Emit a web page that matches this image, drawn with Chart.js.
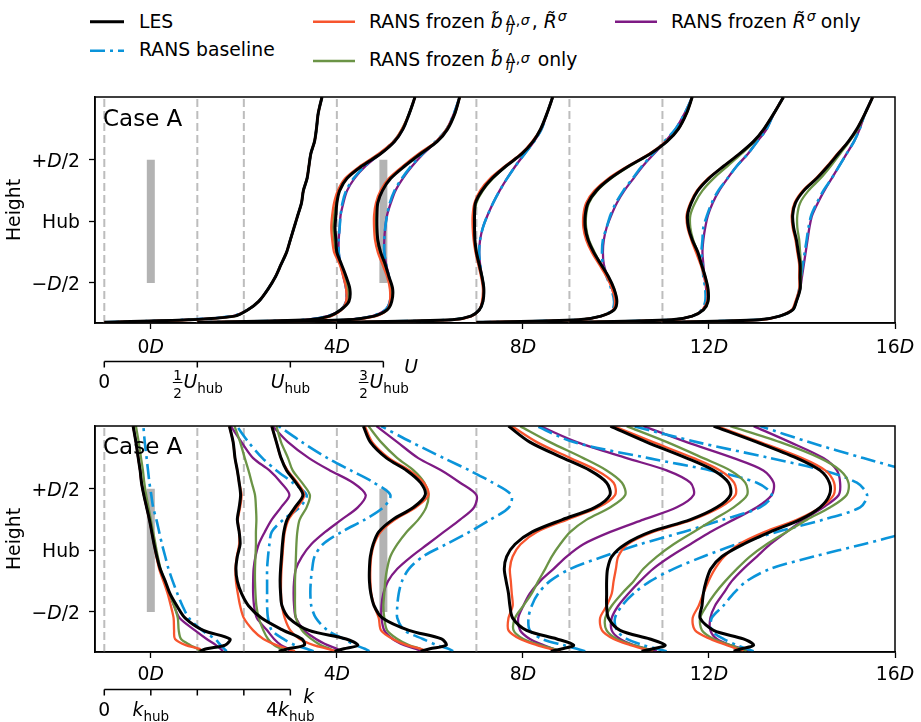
<!DOCTYPE html>
<html>
<head>
<meta charset="utf-8">
<script src="https://cdn.jsdelivr.net/npm/chart.js@4.4.1/dist/chart.umd.min.js"></script>
<style>
  body { margin: 0; background: #fff; width: 921px; height: 722px; position: relative; overflow: hidden;
         font-family: "DejaVu Sans", sans-serif; color: #000; }
  canvas { position: absolute; left: 0; }
  #cU { top: 0; }
  #cK { top: 400px; }
  #legendLines { position: absolute; left: 0; top: 0; }
  .lt { position: absolute; font-size: 18.8px; line-height: 18px; white-space: nowrap; }
  .ss { display: inline-block; position: relative; width: 26px; height: 1px; margin-left: 3px; }
  .ss > span { position: absolute; left: 0; font-size: 14px; line-height: 14px; letter-spacing: 0.5px; }
  .sp1 { display: inline-block; position: relative; width: 9px; height: 1px; }
  .sp1 > span { position: absolute; left: 1px; top: -18px; font-size: 14px; line-height: 14px; }
</style>
</head>
<body>
<svg id="legendLines" width="921" height="80">
  <line x1="90" y1="21.7" x2="124" y2="21.7" stroke="#000000" stroke-width="3"/>
  <line x1="90" y1="50.7" x2="124" y2="50.7" stroke="#0a94da" stroke-width="2.6" stroke-dasharray="15 5 3 5"/>
  <line x1="313" y1="21.7" x2="355" y2="21.7" stroke="#f7552e" stroke-width="2.6"/>
  <line x1="313" y1="61" x2="355" y2="61" stroke="#6b9446" stroke-width="2.6"/>
  <line x1="615" y1="21.7" x2="657" y2="21.7" stroke="#7e1a84" stroke-width="2.6"/>
</svg>
<div class="lt" style="left:139px;top:12.8px">LES</div>
<div class="lt" style="left:139px;top:41.2px">RANS baseline</div>
<div class="lt" style="left:369px;top:12.8px">RANS frozen <i>b&#771;</i><span class="ss"><span style="top:-14px">Δ,<i>σ</i></span><span style="top:-7px"><i>ij</i></span></span>, <i>R&#771;</i><span class="sp1"><span><i>σ</i></span></span></div>
<div class="lt" style="left:369px;top:51.2px">RANS frozen <i>b&#771;</i><span class="ss"><span style="top:-14px">Δ,<i>σ</i></span><span style="top:-7px"><i>ij</i></span></span> only</div>
<div class="lt" style="left:671px;top:12.8px">RANS frozen <i>R&#771;</i><span class="sp1"><span><i>σ</i></span></span> only</div>

<canvas id="cU" width="921" height="400"></canvas>
<canvas id="cK" width="921" height="322"></canvas>

<script>
// heights above/below hub in rotor diameters, shared by every profile (ground first)
const heights = [-0.82, -0.80, -0.77, -0.72, -0.65, -0.55, -0.45, -0.35, -0.25, -0.15, -0.05,
                 0.05, 0.15, 0.25, 0.35, 0.45, 0.55, 0.65, 0.75, 0.88, 1.01];
const stations = [-1, 1, 2, 4, 7, 9, 11];   // x/D of each profile
const turbines = [0, 5];                    // x/D of the rotors
const rotorSpan = [-0.5, 0.5];
const xTicks = [0, 4, 8, 12, 16];
const yTicks = [-0.5, 0, 0.5];
const uTicks = [0, 0.5, 1, 1.5];            // U / U_hub
const kTicks = [0, 1, 2, 3, 4];             // k / k_hub
const uScale = 4;                           // D per U_hub
const kScale = 1;                           // D per k_hub

// U / U_hub, one row per station
const uLES = [
  [0, 0.45, 0.70, 0.77, 0.83, 0.88, 0.92, 0.95, 0.98, 1.00, 1.02, 1.04, 1.06, 1.07, 1.09, 1.10, 1.11, 1.13, 1.14, 1.15, 1.17],
  [0, 0.60, 0.71, 0.77, 0.815, 0.82, 0.80, 0.775, 0.75, 0.745, 0.74, 0.745, 0.75, 0.765, 0.805, 0.885, 0.985, 1.06, 1.105, 1.14, 1.17],
  [0, 0.55, 0.70, 0.77, 0.795, 0.80, 0.78, 0.76, 0.735, 0.72, 0.716, 0.716, 0.72, 0.745, 0.79, 0.865, 0.95, 1.04, 1.095, 1.135, 1.16],
  [0, 0.62, 0.72, 0.765, 0.785, 0.79, 0.78, 0.765, 0.75, 0.742, 0.74, 0.74, 0.745, 0.78, 0.835, 0.91, 0.995, 1.055, 1.095, 1.13, 1.16],
  [0, 0.55, 0.67, 0.74, 0.755, 0.74, 0.71, 0.67, 0.63, 0.60, 0.585, 0.585, 0.60, 0.645, 0.72, 0.82, 0.935, 1.025, 1.085, 1.13, 1.16],
  [0, 0.55, 0.66, 0.72, 0.745, 0.745, 0.73, 0.71, 0.69, 0.66, 0.64, 0.635, 0.655, 0.69, 0.75, 0.83, 0.915, 0.99, 1.045, 1.10, 1.15],
  [0, 0.52, 0.63, 0.70, 0.72, 0.74, 0.74, 0.74, 0.73, 0.72, 0.705, 0.70, 0.715, 0.76, 0.83, 0.89, 0.945, 1.00, 1.045, 1.09, 1.13]
];
const uFrozenBR = [
  [0, 0.47, 0.70, 0.77, 0.83, 0.88, 0.92, 0.95, 0.98, 1.00, 1.02, 1.04, 1.06, 1.07, 1.09, 1.10, 1.11, 1.13, 1.14, 1.15, 1.17],
  [0, 0.62, 0.72, 0.775, 0.80, 0.80, 0.785, 0.765, 0.735, 0.725, 0.72, 0.725, 0.735, 0.755, 0.795, 0.875, 0.975, 1.055, 1.10, 1.14, 1.17],
  [0, 0.57, 0.71, 0.77, 0.785, 0.785, 0.77, 0.745, 0.72, 0.705, 0.70, 0.70, 0.71, 0.735, 0.78, 0.855, 0.94, 1.035, 1.09, 1.135, 1.16],
  [0, 0.63, 0.725, 0.765, 0.78, 0.785, 0.775, 0.76, 0.745, 0.735, 0.73, 0.73, 0.74, 0.77, 0.825, 0.905, 0.99, 1.05, 1.095, 1.13, 1.16],
  [0, 0.56, 0.67, 0.735, 0.745, 0.73, 0.70, 0.66, 0.62, 0.59, 0.575, 0.575, 0.59, 0.635, 0.71, 0.815, 0.93, 1.02, 1.085, 1.13, 1.16],
  [0, 0.56, 0.66, 0.715, 0.74, 0.74, 0.725, 0.705, 0.68, 0.655, 0.635, 0.63, 0.65, 0.685, 0.745, 0.83, 0.915, 0.99, 1.045, 1.10, 1.15],
  [0, 0.53, 0.63, 0.695, 0.715, 0.735, 0.735, 0.735, 0.725, 0.715, 0.70, 0.695, 0.71, 0.755, 0.825, 0.885, 0.94, 1.00, 1.045, 1.09, 1.13]
];
const uFrozenB = [
  [0, 0.45, 0.70, 0.77, 0.83, 0.88, 0.92, 0.95, 0.98, 1.00, 1.02, 1.04, 1.06, 1.07, 1.09, 1.10, 1.11, 1.13, 1.14, 1.15, 1.17],
  [0, 0.61, 0.715, 0.77, 0.81, 0.81, 0.79, 0.77, 0.745, 0.735, 0.73, 0.735, 0.745, 0.76, 0.80, 0.88, 0.98, 1.058, 1.10, 1.14, 1.17],
  [0, 0.56, 0.70, 0.77, 0.79, 0.79, 0.775, 0.755, 0.73, 0.715, 0.71, 0.71, 0.715, 0.74, 0.785, 0.86, 0.945, 1.038, 1.093, 1.135, 1.16],
  [0, 0.62, 0.72, 0.765, 0.785, 0.79, 0.78, 0.765, 0.75, 0.74, 0.74, 0.74, 0.75, 0.785, 0.84, 0.91, 0.995, 1.055, 1.095, 1.13, 1.16],
  [0, 0.55, 0.67, 0.74, 0.755, 0.74, 0.71, 0.67, 0.635, 0.605, 0.59, 0.59, 0.605, 0.65, 0.725, 0.825, 0.935, 1.025, 1.085, 1.13, 1.16],
  [0, 0.55, 0.66, 0.72, 0.745, 0.745, 0.73, 0.71, 0.69, 0.665, 0.65, 0.65, 0.675, 0.715, 0.775, 0.85, 0.925, 0.995, 1.045, 1.10, 1.15],
  [0, 0.52, 0.63, 0.70, 0.72, 0.74, 0.745, 0.745, 0.74, 0.735, 0.725, 0.725, 0.74, 0.785, 0.85, 0.905, 0.955, 1.005, 1.05, 1.09, 1.13]
];
const uFrozenR = [
  [0, 0.43, 0.69, 0.77, 0.83, 0.88, 0.92, 0.95, 0.98, 1.00, 1.02, 1.04, 1.06, 1.07, 1.09, 1.10, 1.11, 1.13, 1.14, 1.15, 1.17],
  [0, 0.58, 0.70, 0.77, 0.80, 0.80, 0.785, 0.77, 0.76, 0.76, 0.765, 0.77, 0.785, 0.805, 0.845, 0.905, 0.985, 1.06, 1.105, 1.14, 1.17],
  [0, 0.55, 0.69, 0.76, 0.785, 0.79, 0.78, 0.765, 0.755, 0.755, 0.76, 0.77, 0.79, 0.815, 0.855, 0.905, 0.965, 1.035, 1.09, 1.13, 1.16],
  [0, 0.62, 0.72, 0.765, 0.785, 0.79, 0.78, 0.77, 0.765, 0.77, 0.785, 0.81, 0.84, 0.875, 0.915, 0.96, 1.01, 1.06, 1.10, 1.13, 1.16],
  [0, 0.55, 0.67, 0.735, 0.745, 0.73, 0.705, 0.685, 0.68, 0.685, 0.70, 0.725, 0.755, 0.795, 0.845, 0.895, 0.955, 1.015, 1.07, 1.12, 1.16],
  [0, 0.55, 0.66, 0.715, 0.735, 0.735, 0.725, 0.72, 0.715, 0.72, 0.73, 0.745, 0.77, 0.805, 0.85, 0.90, 0.96, 1.01, 1.06, 1.10, 1.15],
  [0, 0.52, 0.63, 0.70, 0.72, 0.74, 0.75, 0.76, 0.77, 0.78, 0.79, 0.805, 0.835, 0.87, 0.91, 0.95, 0.99, 1.03, 1.06, 1.09, 1.13]
];
const uBaseline = [
  [0, 0.43, 0.69, 0.77, 0.83, 0.88, 0.92, 0.95, 0.98, 1.00, 1.02, 1.04, 1.06, 1.07, 1.09, 1.10, 1.11, 1.13, 1.14, 1.15, 1.17],
  [0, 0.58, 0.70, 0.77, 0.80, 0.80, 0.79, 0.77, 0.76, 0.76, 0.765, 0.77, 0.78, 0.80, 0.84, 0.90, 0.98, 1.055, 1.105, 1.14, 1.17],
  [0, 0.55, 0.69, 0.76, 0.785, 0.79, 0.78, 0.765, 0.755, 0.755, 0.76, 0.77, 0.785, 0.81, 0.85, 0.90, 0.96, 1.03, 1.09, 1.13, 1.16],
  [0, 0.62, 0.72, 0.765, 0.785, 0.79, 0.78, 0.77, 0.765, 0.77, 0.785, 0.81, 0.84, 0.875, 0.915, 0.96, 1.01, 1.06, 1.10, 1.13, 1.16],
  [0, 0.55, 0.67, 0.73, 0.74, 0.725, 0.70, 0.68, 0.675, 0.68, 0.70, 0.72, 0.75, 0.79, 0.84, 0.89, 0.95, 1.01, 1.07, 1.12, 1.16],
  [0, 0.55, 0.66, 0.71, 0.73, 0.73, 0.72, 0.715, 0.71, 0.715, 0.72, 0.74, 0.765, 0.80, 0.85, 0.90, 0.96, 1.01, 1.06, 1.10, 1.15],
  [0, 0.52, 0.63, 0.70, 0.72, 0.735, 0.745, 0.755, 0.765, 0.775, 0.785, 0.80, 0.83, 0.865, 0.91, 0.95, 0.99, 1.03, 1.06, 1.09, 1.13]
];

// k / k_hub, one row per station
const kLES = [
  [2.05, 2.2, 2.6, 2.7, 2.13, 1.74, 1.56, 1.41, 1.31, 1.20, 1.13, 1.07, 1.02, 0.97, 0.91, 0.85, 0.80, 0.77, 0.73, 0.68, 0.62],
  [1.75, 1.95, 2.3, 2.25, 1.85, 1.38, 1.10, 0.95, 0.86, 0.83, 0.86, 0.92, 0.90, 0.86, 0.90, 0.93, 0.90, 0.86, 0.81, 0.77, 0.69],
  [1.95, 2.15, 2.45, 2.2, 1.4, 0.97, 0.82, 0.79, 0.78, 0.79, 0.81, 0.83, 0.86, 0.93, 1.1, 1.27, 1.12, 0.92, 0.8, 0.7, 0.6],
  [1.8, 2.0, 2.35, 2.25, 1.55, 0.98, 0.8, 0.73, 0.7, 0.7, 0.72, 0.78, 0.9, 1.2, 1.65, 1.9, 1.8, 1.5, 1.07, 0.72, 0.57],
  [1.6, 1.85, 2.09, 1.73, 1.08, 0.78, 0.72, 0.69, 0.64, 0.6, 0.65, 0.83, 1.2, 1.85, 2.55, 2.87, 2.8, 2.44, 1.87, 1.15, 0.69],
  [1.55, 1.8, 2.06, 1.73, 1.09, 0.84, 0.8, 0.8, 0.8, 0.82, 0.91, 1.2, 1.74, 2.6, 3.17, 3.46, 3.42, 3.1, 2.52, 1.66, 0.88],
  [1.53, 1.7, 1.96, 1.74, 1.1, 0.81, 0.85, 0.88, 0.94, 1.04, 1.28, 1.74, 2.32, 2.96, 3.39, 3.59, 3.59, 3.39, 2.89, 2.03, 1.1]
];
const kFrozenBR = [
  [2.1, 2.05, 1.75, 1.52, 1.5, 1.49, 1.43, 1.36, 1.27, 1.18, 1.12, 1.07, 1.02, 0.97, 0.91, 0.85, 0.8, 0.77, 0.73, 0.68, 0.62],
  [2.1, 1.95, 1.7, 1.42, 1.2, 1.0, 0.92, 0.87, 0.83, 0.82, 0.85, 0.9, 0.9, 0.87, 0.92, 0.95, 0.9, 0.86, 0.81, 0.77, 0.69],
  [2.0, 1.8, 1.5, 1.2, 1.0, 0.88, 0.82, 0.8, 0.8, 0.81, 0.83, 0.85, 0.88, 0.96, 1.15, 1.3, 1.15, 0.94, 0.8, 0.7, 0.6],
  [1.95, 1.8, 1.5, 1.2, 0.95, 0.9, 0.8, 0.74, 0.72, 0.72, 0.74, 0.8, 0.94, 1.25, 1.7, 1.97, 1.87, 1.56, 1.12, 0.76, 0.6],
  [1.8, 1.58, 1.3, 0.94, 0.69, 0.69, 0.78, 0.76, 0.74, 0.72, 0.78, 0.95, 1.3, 1.95, 2.62, 2.98, 2.95, 2.59, 2.02, 1.3, 0.76],
  [1.8, 1.59, 1.31, 0.95, 0.7, 0.66, 0.8, 0.91, 0.95, 1.0, 1.05, 1.25, 1.8, 2.65, 3.24, 3.57, 3.54, 3.24, 2.67, 1.8, 0.95],
  [1.74, 1.6, 1.38, 1.03, 0.7, 0.65, 0.78, 0.88, 0.99, 1.13, 1.33, 1.65, 2.2, 2.9, 3.4, 3.68, 3.69, 3.5, 3.0, 2.1, 1.17]
];
const kFrozenB = [
  [2.06, 2.0, 1.85, 1.65, 1.6, 1.58, 1.5, 1.4, 1.3, 1.21, 1.15, 1.1, 1.05, 1.0, 0.95, 0.9, 0.86, 0.83, 0.79, 0.74, 0.68],
  [1.9, 1.8, 1.65, 1.52, 1.42, 1.32, 1.27, 1.25, 1.24, 1.24, 1.25, 1.26, 1.26, 1.27, 1.26, 1.24, 1.17, 1.1, 1.02, 0.92, 0.8],
  [1.95, 1.85, 1.65, 1.45, 1.25, 1.12, 1.1, 1.1, 1.1, 1.11, 1.12, 1.13, 1.15, 1.2, 1.35, 1.42, 1.25, 1.05, 0.95, 0.8, 0.7],
  [1.9, 1.8, 1.55, 1.3, 1.08, 1.02, 1.0, 1.02, 1.04, 1.08, 1.15, 1.3, 1.5, 1.75, 1.92, 1.97, 1.88, 1.65, 1.3, 0.95, 0.68],
  [1.8, 1.66, 1.37, 1.01, 0.8, 0.83, 1.01, 1.19, 1.33, 1.48, 1.62, 1.8, 2.02, 2.37, 2.88, 3.2, 3.13, 2.8, 2.3, 1.58, 0.94],
  [1.8, 1.66, 1.38, 1.02, 0.8, 0.77, 0.91, 1.13, 1.38, 1.59, 1.88, 2.24, 2.67, 3.1, 3.53, 3.82, 3.78, 3.46, 2.88, 2.1, 1.23],
  [1.81, 1.67, 1.46, 1.1, 0.85, 0.81, 0.95, 1.13, 1.35, 1.6, 1.88, 2.24, 2.67, 3.11, 3.61, 3.96, 4.0, 3.82, 3.39, 2.53, 1.46]
];
const kFrozenR = [
  [2.55, 2.5, 2.4, 2.2, 1.95, 1.62, 1.5, 1.4, 1.3, 1.2, 1.13, 1.07, 1.02, 0.97, 0.91, 0.85, 0.8, 0.77, 0.73, 0.68, 0.62],
  [2.0, 1.95, 1.8, 1.65, 1.5, 1.28, 1.22, 1.2, 1.2, 1.21, 1.25, 1.32, 1.45, 1.6, 1.8, 1.98, 1.8, 1.55, 1.2, 0.95, 0.72],
  [2.1, 2.0, 1.8, 1.55, 1.3, 1.12, 1.08, 1.07, 1.08, 1.12, 1.25, 1.45, 1.75, 2.1, 2.45, 2.62, 2.35, 1.85, 1.4, 0.95, 0.62],
  [1.85, 1.7, 1.45, 1.2, 1.02, 0.96, 0.96, 1.0, 1.1, 1.3, 1.6, 1.95, 2.3, 2.65, 2.95, 3.0, 2.65, 2.25, 1.75, 1.3, 0.85],
  [1.8, 1.66, 1.44, 1.15, 0.94, 0.9, 1.01, 1.15, 1.37, 1.66, 1.94, 2.3, 2.88, 3.59, 4.31, 4.67, 4.6, 4.09, 3.23, 2.16, 1.37],
  [1.88, 1.66, 1.38, 1.09, 0.91, 0.91, 1.05, 1.27, 1.52, 1.8, 2.17, 2.6, 3.03, 3.53, 4.03, 4.35, 4.39, 4.17, 3.53, 2.52, 1.59],
  [1.88, 1.74, 1.46, 1.17, 1.03, 1.03, 1.13, 1.31, 1.49, 1.74, 2.03, 2.32, 2.67, 3.03, 3.46, 3.79, 3.82, 3.75, 3.46, 2.74, 1.96]
];
const kBaseline = [
  [2.63, 2.58, 2.5, 2.38, 2.1, 1.82, 1.68, 1.57, 1.47, 1.38, 1.31, 1.24, 1.18, 1.12, 1.05, 1.01, 0.97, 0.94, 0.91, 0.87, 0.84],
  [2.5, 2.35, 2.1, 1.85, 1.6, 1.52, 1.5, 1.5, 1.5, 1.5, 1.52, 1.55, 1.6, 1.85, 2.2, 2.35, 2.05, 1.7, 1.4, 1.1, 0.85],
  [2.7, 2.6, 2.4, 2.15, 1.8, 1.55, 1.45, 1.43, 1.44, 1.47, 1.52, 1.7, 2.1, 2.6, 3.0, 3.15, 2.8, 2.3, 1.8, 1.25, 0.75],
  [2.5, 2.4, 2.15, 1.85, 1.45, 1.3, 1.3, 1.33, 1.4, 1.55, 1.85, 2.35, 2.85, 3.3, 3.7, 3.75, 3.35, 2.85, 2.3, 1.6, 0.95],
  [2.34, 2.16, 1.87, 1.41, 1.15, 1.12, 1.19, 1.33, 1.58, 2.02, 2.73, 3.52, 4.45, 5.3, 6.1, 6.35, 6.03, 5.03, 3.7, 2.09, 1.3],
  [2.09, 1.88, 1.59, 1.23, 1.02, 0.98, 1.13, 1.38, 1.74, 2.24, 2.88, 3.6, 4.46, 5.46, 6.25, 6.4, 6.18, 5.46, 4.32, 2.74, 1.38],
  [1.96, 1.81, 1.6, 1.31, 1.06, 1.06, 1.31, 1.53, 1.81, 2.32, 3.25, 4.32, 5.3, 6.0, 6.4, 6.5, 6.0, 5.25, 4.32, 3.15, 2.1]
];

const X_MIN = -1.2, X_MAX = 16, Y_MIN = -0.826, Y_MAX = 1.011;
const FONT = '"DejaVu Sans", sans-serif';
const FS = 18.8;

const styles = {
  les:  { color: '#000000', width: 3,   dash: [],            order: 1 },
  br:   { color: '#f7552e', width: 2.3, dash: [],            order: 2 },
  b:    { color: '#6b9446', width: 2.3, dash: [],            order: 3 },
  base: { color: '#0a94da', width: 2.6, dash: [15, 5, 3, 5], order: 4 },
  r:    { color: '#7e1a84', width: 2.3, dash: [],            order: 5 }
};

function profileSets(series, scale) {
  const out = [];
  series.forEach(([vals, st]) => {
    vals.forEach((row, j) => {
      out.push({
        data: heights.map((z, i) => ({ x: stations[j] + scale * row[i], y: z })),
        borderColor: st.color, borderWidth: st.width, borderDash: st.dash,
        order: st.order, showLine: true, tension: 0.3, pointRadius: 0, clip: 0
      });
    });
  });
  // station guides and rotors
  stations.forEach(s => out.push({
    data: [{ x: s, y: Y_MIN }, { x: s, y: Y_MAX }], borderColor: '#bdbdbd', borderWidth: 2,
    borderDash: [8, 4], order: 20, showLine: true, pointRadius: 0, clip: 0
  }));
  turbines.forEach(t => out.push({
    data: [{ x: t, y: rotorSpan[0] }, { x: t, y: rotorSpan[1] }], borderColor: '#b3b3b3', borderWidth: 8,
    borderCapStyle: 'butt', order: 19, showLine: true, pointRadius: 0, clip: 0
  }));
  return out;
}

function drawRich(ctx, parts, x, y, align, size) {
  size = size || FS;
  const small = 13.5;
  const fontOf = p => (p.it ? 'italic ' : '') + (p.sub || p.frac ? small : size) + 'px ' + FONT;
  const widthOf = p => {
    ctx.font = fontOf(p);
    if (p.frac) return Math.max(ctx.measureText(p.frac[0]).width, ctx.measureText(p.frac[1]).width) + 3;
    return ctx.measureText(p.t).width;
  };
  const total = parts.reduce((s, p) => s + widthOf(p), 0);
  let cx = align === 'center' ? x - total / 2 : align === 'right' ? x - total : x;
  ctx.textBaseline = 'alphabetic';
  parts.forEach(p => {
    const w = widthOf(p);
    ctx.font = fontOf(p);
    if (p.frac) {
      ctx.textAlign = 'center';
      ctx.fillText(p.frac[0], cx + w / 2, y - 8);
      ctx.fillText(p.frac[1], cx + w / 2, y + 10);
      ctx.fillRect(cx + 1, y - 6, w - 2, 1);
    } else {
      ctx.textAlign = 'left';
      ctx.fillText(p.t, cx, y + (p.sub ? 5 : 0));
    }
    cx += w;
  });
}

const yTickParts = [
  [{ t: '\u2212' }, { t: 'D', it: true }, { t: '/2' }],
  [{ t: 'Hub' }],
  [{ t: '+' }, { t: 'D', it: true }, { t: '/2' }]
];
const uTickParts = [
  [{ t: '0' }],
  [{ frac: ['1', '2'] }, { t: 'U', it: true }, { t: 'hub', sub: true }],
  [{ t: 'U', it: true }, { t: 'hub', sub: true }],
  [{ frac: ['3', '2'] }, { t: 'U', it: true }, { t: 'hub', sub: true }]
];
const kTickParts = [
  [{ t: '0' }],
  [{ t: 'k', it: true }, { t: 'hub', sub: true }],
  [], [],
  [{ t: '4' }, { t: 'k', it: true }, { t: 'hub', sub: true }]
];

function makeDecor(o) {
  return {
    id: 'decor',
    afterDraw(chart) {
      const { ctx, chartArea: a } = chart;
      const x = chart.scales.x, y = chart.scales.y;
      ctx.save();
      ctx.strokeStyle = '#000';
      ctx.lineWidth = 1.5;
      ctx.strokeRect(a.left, a.top, a.right - a.left, a.bottom - a.top);
      ctx.fillStyle = '#000';
      xTicks.forEach(v => drawRich(ctx, [{ t: String(v) }, { t: 'D', it: true }], x.getPixelForValue(v), a.bottom + o.xLabelGap, 'center'));
      yTicks.forEach((v, i) => drawRich(ctx, yTickParts[i], a.left - 15, y.getPixelForValue(v) + 6.8, 'right'));

      ctx.save();
      ctx.translate(15, (a.top + a.bottom) / 2);
      ctx.rotate(-Math.PI / 2);
      ctx.font = FS + 'px ' + FONT;
      ctx.textAlign = 'center';
      ctx.textBaseline = 'middle';
      ctx.fillText('Height', 0, 0);
      ctx.restore();

      ctx.font = '23px ' + FONT;
      ctx.textAlign = 'left';
      ctx.textBaseline = 'alphabetic';
      ctx.fillText('Case A', a.left + 8, a.top + o.caseGap);

      // secondary scale: profile value axis anchored at the first station
      const ay = a.bottom + o.axisGap;
      const px = v => x.getPixelForValue(stations[0] + o.scale * v);
      const ticks = o.ticks;
      ctx.lineWidth = 1.5;
      ctx.beginPath();
      ctx.moveTo(px(ticks[0]), ay);
      ctx.lineTo(px(ticks[ticks.length - 1]), ay);
      ticks.forEach(v => { ctx.moveTo(px(v), ay); ctx.lineTo(px(v), ay + 6); });
      ctx.stroke();
      ticks.forEach((v, i) => { if (o.parts[i].length) drawRich(ctx, o.parts[i], px(v), ay + o.labelGap, 'center'); });
      drawRich(ctx, [{ t: o.symbol, it: true }], px(ticks[ticks.length - 1]) + o.symbolDx, ay + o.symbolDy, 'left');
      ctx.restore();
    }
  };
}

function makeChart(id, series, scale, pad, deco) {
  return new Chart(document.getElementById(id), {
    type: 'scatter',
    data: { datasets: profileSets(series, scale) },
    options: {
      responsive: false, animation: false, events: [],
      layout: { padding: pad },
      plugins: { legend: { display: false }, tooltip: { enabled: false } },
      scales: {
        x: {
          type: 'linear', min: X_MIN, max: X_MAX,
          afterBuildTicks: s => { s.ticks = xTicks.map(v => ({ value: v })); },
          afterFit: s => { s.height = 0; },
          ticks: { display: false },
          grid: { drawOnChartArea: false, tickLength: 6, tickWidth: 1.3, tickColor: '#000' },
          border: { color: '#000', width: 1.5 }
        },
        y: {
          type: 'linear', min: Y_MIN, max: Y_MAX,
          afterBuildTicks: s => { s.ticks = yTicks.map(v => ({ value: v })); },
          afterFit: s => { s.width = 0; },
          ticks: { display: false },
          grid: { drawOnChartArea: false, tickLength: 6, tickWidth: 1.3, tickColor: '#000' },
          border: { color: '#000', width: 1.5 }
        }
      }
    },
    plugins: [makeDecor(deco)]
  });
}

makeChart('cU', [
  [uBaseline, styles.base], [uFrozenR, styles.r], [uFrozenB, styles.b], [uFrozenBR, styles.br], [uLES, styles.les]
], uScale, { left: 95, right: 26, top: 97, bottom: 77 },
  { xLabelGap: 30, caseGap: 29, axisGap: 38.5, labelGap: 26.5, ticks: uTicks, parts: uTickParts, scale: uScale,
    symbol: 'U', symbolDx: 21, symbolDy: 11.5 });

makeChart('cK', [
  [kBaseline, styles.base], [kFrozenR, styles.r], [kFrozenB, styles.b], [kFrozenBR, styles.br], [kLES, styles.les]
], kScale, { left: 95, right: 26, top: 26, bottom: 70 },
  { xLabelGap: 27.5, caseGap: 27.5, axisGap: 37.5, labelGap: 26.5, ticks: kTicks, parts: kTickParts, scale: kScale,
    symbol: 'k', symbolDx: 13, symbolDy: 13 });
</script>
</body>
</html>
